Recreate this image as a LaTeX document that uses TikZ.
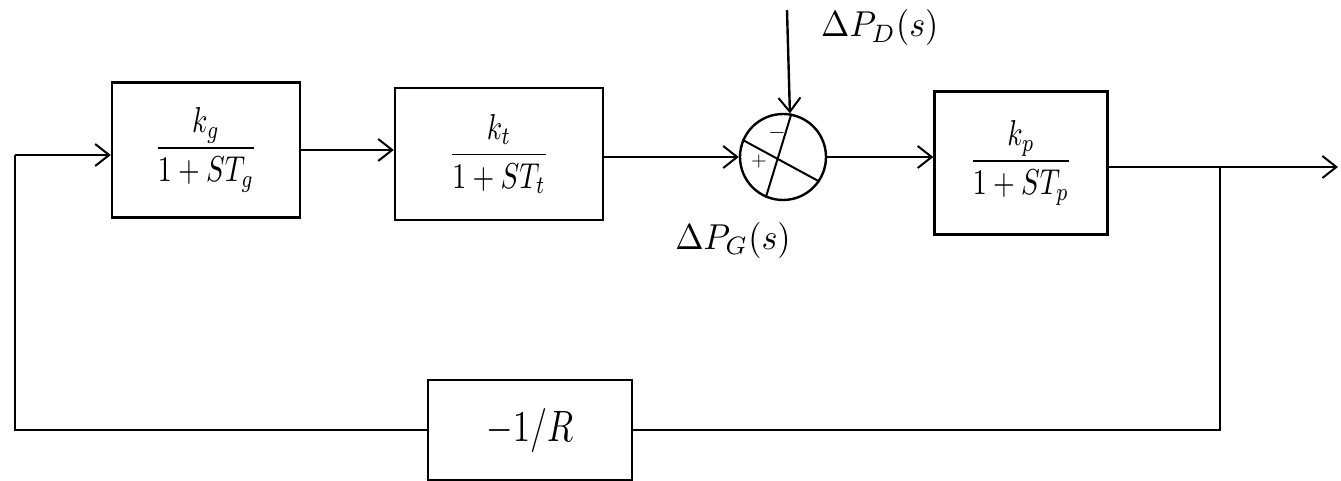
\documentclass[tikz,border=0pt]{standalone}
\usepackage{graphicx}
\usetikzlibrary{arrows.meta}
\newcommand{\bigtx}[3]{\scalebox{#1}[#2]{#3}}
\begin{document}
\begin{tikzpicture}[x=1pt,y=-1pt,line width=2.4pt,
  blk/.style={draw,rectangle,inner sep=0pt},
  sumc/.style={draw,circle,inner sep=0pt,minimum size=86pt},
  arr/.style={-{Straight Barb[length=14pt,width=22pt,line width=2pt]}}]
\useasboundingbox (0,0) rectangle (1341,481);
\node[blk,minimum width=188pt,minimum height=135pt] (b1) at (206,150) {\bigtx{2.8}{3.6}{$\displaystyle\frac{k_g}{1+ST_g}$}};
\node[blk,minimum width=208pt,minimum height=132pt] (b2) at (499,154) {\bigtx{2.8}{3.6}{$\displaystyle\frac{k_t}{1+ST_t}$}};
\node[sumc] (sum) at (783,157) {};
\node[blk,minimum width=173pt,minimum height=143pt] (b3) at (1021,163) {\bigtx{2.8}{3.6}{$\displaystyle\frac{k_p}{1+ST_p}$}};
\node[blk,minimum width=204pt,minimum height=100pt] (br) at (530,430) {\bigtx{3.4}{4.4}{$-1/R$}};
\coordinate (dtop) at (787,10);
\coordinate (out) at (1338,167);
\coordinate (br1) at (1220,167);
\coordinate (br2) at (1220,430);
\coordinate (c1) at (15,430);
\coordinate (c2) at (15,155);
\node[anchor=west,inner sep=0pt] (pd) at (820,28) {\bigtx{3.4}{3.6}{$\Delta P_D(s)$}};
\node[inner sep=0pt] (pg) at (733,240) {\bigtx{3.4}{3.6}{$\Delta P_G(s)$}};
\node (mn) at (777,133) {\bigtx{2.2}{2.2}{$-$}};
\node (pl) at (759,162) {\bigtx{2}{2}{$+$}};
\draw[line width=2pt] (sum.79) -- (sum.247);
\draw[line width=2pt] (sum.157) -- (sum.326);
\draw[arr] (c2) -- (b1.west |- c2);
\draw[arr] (b1.east) -- (b2.west |- b1.east);
\draw[arr] (b2.east |- sum.west) -- (sum.west);
\draw[arr] (sum.east) -- (b3.west |- sum.east);
\draw[arr] (dtop) -- (sum.81);
\draw[arr] (b3.east |- out) -- (out);
\draw (br1) -- (br2) -- (br.east);
\draw (br.west) -- (c1) -- (c2);
\end{tikzpicture}
\end{document}
